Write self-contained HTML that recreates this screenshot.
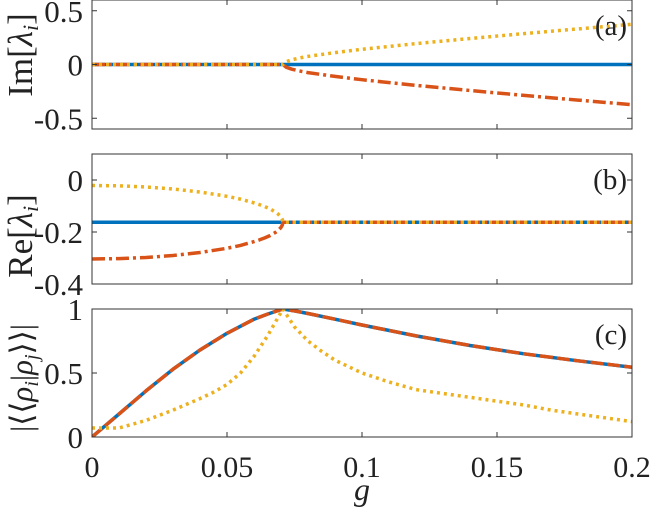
<!DOCTYPE html>
<html><head><meta charset="utf-8"><style>
body{margin:0;background:#fff;}
svg{display:block;}
text{font-family:"Liberation Serif","Times New Roman",serif;}
</style></head><body>
<svg id="chart" width="650" height="509" viewBox="0 0 650 509" xmlns="http://www.w3.org/2000/svg"></svg>
<script>
// ---- data ----
const gIm = [0,0.02,0.04,0.06,0.0707,0.072,0.074,0.076,0.078,0.08,0.09,0.1,0.12,0.14,0.16,0.18,0.2];
const imBlue = [0,0,0,0,0,0,0,0,0,0,0,0,0,0,0,0,0];
const imYellow = [0,0,0,0,0,0.027,0.044,0.056,0.066,0.075,0.111,0.141,0.194,0.242,0.287,0.331,0.374];
const imRed = [0,0,0,0,0,-0.027,-0.044,-0.056,-0.066,-0.075,-0.111,-0.141,-0.194,-0.242,-0.287,-0.331,-0.374];
const gRe = [0,0.01,0.02,0.03,0.04,0.05,0.055,0.06,0.062,0.064,0.066,0.068,0.069,0.07,0.0705,0.0707,0.1,0.15,0.2];
const reBlue = [-0.1625,-0.1625,-0.1625,-0.1625,-0.1625,-0.1625,-0.1625,-0.1625,-0.1625,-0.1625,-0.1625,-0.1625,-0.1625,-0.1625,-0.1625,-0.1625,-0.1625,-0.1625,-0.1625];
const reYellow = [-0.021,-0.0225,-0.027,-0.0345,-0.046,-0.0625,-0.0736,-0.088,-0.0945,-0.1024,-0.1117,-0.1237,-0.1316,-0.1425,-0.1515,-0.1625,-0.1625,-0.1625,-0.1625];
const reRed = [-0.304,-0.3025,-0.298,-0.2905,-0.279,-0.2625,-0.2514,-0.237,-0.2305,-0.2226,-0.2133,-0.2013,-0.1934,-0.1825,-0.1735,-0.1625,-0.1625,-0.1625,-0.1625];
const gOv = [0,0.01,0.02,0.03,0.04,0.05,0.06,0.065,0.0707,0.075,0.08,0.09,0.1,0.12,0.14,0.16,0.18,0.2];
const ovBlue = [0,0.18,0.36,0.53,0.68,0.81,0.92,0.96,1,0.985,0.965,0.92,0.875,0.79,0.715,0.65,0.595,0.545];
const gOvY = [0,0.01,0.02,0.03,0.04,0.045,0.05,0.055,0.06,0.065,0.0707,0.075,0.08,0.085,0.09,0.1,0.11,0.12,0.13,0.14,0.15,0.16,0.17,0.18,0.19,0.2];
const ovYellow = [0.07,0.07,0.13,0.21,0.3,0.35,0.41,0.5,0.63,0.79,1,0.86,0.75,0.67,0.6,0.5,0.43,0.37,0.34,0.31,0.28,0.25,0.21,0.18,0.15,0.12];
const xTicks = [0,0.05,0.1,0.15,0.2];
const xTickLabels = ["0","0.05","0.1","0.15","0.2"];
const aTicks = [-0.5,0,0.5], aTickLabels = ["-0.5","0","0.5"];
const bTicks = [-0.4,-0.2,0], bTickLabels = ["-0.4","-0.2","0"];
const cTicks = [0,0.5,1], cTickLabels = ["0","0.5","1"];

const NS="http://www.w3.org/2000/svg";
const svg=document.getElementById('chart');
function mk(tag,attrs,parent){const e=document.createElementNS(NS,tag);for(const k in attrs)e.setAttribute(k,attrs[k]);(parent||svg).appendChild(e);return e;}
const X0=92,X1=632;
const xs=v=>X0+(v-0)/(0.2-0)*(X1-X0);
const BLUE="#0072BD",RED="#D95319",YEL="#EDB120";

function panel(name,top,bot,ymin,ymax,ticks,labels,series,letter,title,titleY,titleSize){
  const ys=v=>bot-(v-ymin)/(ymax-ymin)*(bot-top);
  const g=mk('g',{});
  
  
  mk('defs',{},g).innerHTML=`<clipPath id="clip-${name}"><rect x="${X0}" y="${top}" width="${X1-X0}" height="${bot-top}"/></clipPath>`;
  const sg=mk('g',{'clip-path':`url(#clip-${name})`},g);
  series.forEach(s=>{
    const d=s.x.map((xv,i)=>(i?'L':'M')+xs(xv).toFixed(1)+','+ys(s.y[i]).toFixed(1)).join('');
    const p=mk('path',{d:d,fill:'none',stroke:s.c,'stroke-width':3.5,'stroke-dasharray':s.dash||'none','stroke-linejoin':'round'},sg);
    
    
  });
  const box=mk('rect',{x:X0,y:top,width:X1-X0,height:bot-top,fill:'none',stroke:'#333','stroke-width':1},g);
  
  
  xTicks.forEach(t=>{const x=xs(t);mk('line',{x1:x,x2:x,y1:top,y2:top+5,stroke:'#333'},g);mk('line',{x1:x,x2:x,y1:bot,y2:bot-5,stroke:'#333'},g);});
  ticks.forEach((t,i)=>{const y=ys(t);
    mk('line',{x1:X0,x2:X0+5,y1:y,y2:y,stroke:'#333'},g);mk('line',{x1:X1,x2:X1-5,y1:y,y2:y,stroke:'#333'},g);
    const tl=mk('text',{x:83,y:y+11,'text-anchor':'end','font-size':31,fill:'#222'},g);tl.textContent=labels[i];
    
    
  });
  const lt=mk('text',{x:627,y:top+35,'text-anchor':'end','font-size':29,fill:'#222'},g);lt.textContent=letter;
  
  
  const tt=mk('text',{x:0,y:0,'text-anchor':'middle','font-size':titleSize,fill:'#222',transform:`translate(32,${titleY}) rotate(-90)`},g);
  tt.innerHTML=title;
  
  
}
panel('panel-a',0,129,-0.6,0.6,aTicks,aTickLabels,[
  {x:gIm,y:imBlue,c:BLUE,n:'im-blue-line'},
  {x:gIm,y:imRed,c:RED,dash:'13,4,3,4',n:'im-red-line'},
  {x:gIm,y:imYellow,c:YEL,dash:'3,4',n:'im-yellow-line'}],'(a)','Im[<tspan font-style="italic">λ<tspan font-size="22" dy="6">i</tspan></tspan><tspan dy="-6">]</tspan>',55,35);
panel('panel-b',154,284,-0.4,0.1,bTicks,bTickLabels,[
  {x:gRe,y:reBlue,c:BLUE,n:'re-blue-line'},
  {x:gRe,y:reRed,c:RED,dash:'13,4,3,4',n:'re-red-line'},
  {x:gRe,y:reYellow,c:YEL,dash:'3,4',n:'re-yellow-line'}],'(b)','Re[<tspan font-style="italic">λ<tspan font-size="22" dy="6">i</tspan></tspan><tspan dy="-6">]</tspan>',236,35);
panel('panel-c',309,437,0,1,cTicks,cTickLabels,[
  {x:gOv,y:ovBlue,c:BLUE,n:'overlap-blue-line'},
  {x:gOv,y:ovBlue,c:RED,dash:'13,4',n:'overlap-red-line'},
  {x:gOvY,y:ovYellow,c:YEL,dash:'3,4',n:'overlap-yellow-line'}],'(c)','|⟨⟨<tspan font-style="italic">ρ<tspan font-size="20" dy="6">i</tspan></tspan><tspan dy="-6">|</tspan><tspan font-style="italic">ρ<tspan font-size="20" dy="6">j</tspan></tspan><tspan dy="-6">⟩⟩|</tspan>',378,31);
xTicks.forEach((t,i)=>{
  const tl=mk('text',{x:xs(t),y:477,'text-anchor':'middle','font-size':30,fill:'#222'});tl.textContent=xTickLabels[i];
  
  
});
const xt=mk('text',{x:362,y:500,'text-anchor':'middle','font-size':32,'font-style':'italic',fill:'#222'});xt.textContent='g';


</script>
</body></html>
